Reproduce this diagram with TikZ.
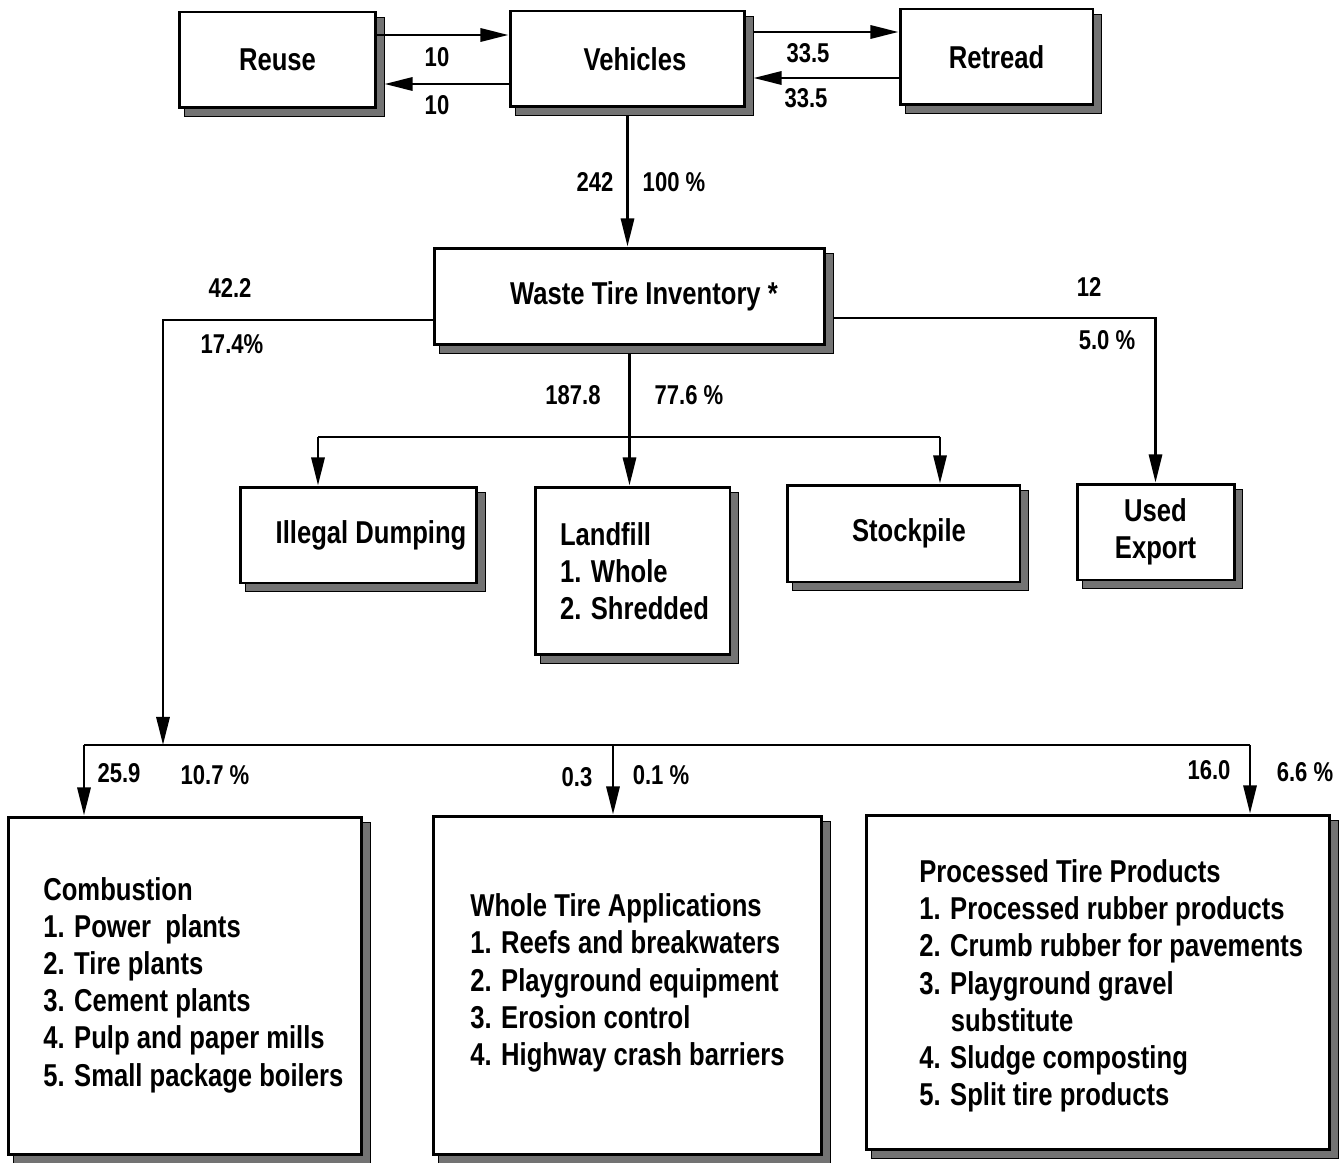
\documentclass[tikz,border=0pt]{standalone}
\usepackage{fontspec}
\setmainfont{Liberation Sans}[FakeStretch=0.81]
\usetikzlibrary{arrows.meta}
\pgfdeclarelayer{bg}
\pgfsetlayers{bg,main}
\begin{document}
\begin{tikzpicture}[x=0.02cm,y=-0.02cm,
  box/.style={draw,line width=1.7pt,fill=white,inner sep=0pt,align=center,
    font=\fontsize{18}{21}\selectfont\bfseries},
  listtext/.style={inner sep=0pt,align=left,anchor=west,
    font=\fontsize{18}{21.2}\selectfont\bfseries},
  lbl/.style={font=\fontsize{15.5}{18}\selectfont\bfseries,inner sep=0pt},
  shd/.style={draw=black,line width=0.8pt,fill=black!55},
  ln/.style={line width=1.5pt},
  arr/.style={line width=1.5pt,-{Triangle[length=16pt,width=7.5pt]}}]
\useasboundingbox (0,0) rectangle (1344,1162);

% top row
\node[box,minimum width=3.94cm,minimum height=1.92cm] (reuse) at (277.5,60) {Reuse};
\node[box,minimum width=4.7cm,minimum height=1.92cm] (veh) at (627.5,59) {\hspace*{0.3cm}Vehicles};
\node[box,minimum width=3.86cm,minimum height=1.92cm] (retread) at (996.5,57) {Retread};
% inventory
\node[box,minimum width=7.82cm,minimum height=1.94cm] (wti) at (629.5,296.5) {\hspace*{0.58cm}Waste Tire Inventory *};
% middle row
\node[box,minimum width=4.74cm,minimum height=1.92cm] (illegal) at (358.5,535) {\hspace*{0.5cm}Illegal Dumping};
\node[box,minimum width=3.9cm,minimum height=3.36cm,align=left] (landfill) at (632.5,571) {\hspace*{0.08cm}Landfill\\\hspace*{0.08cm}1. Whole\\\hspace*{0.08cm}2. Shredded};
\node[box,minimum width=4.66cm,minimum height=1.94cm] (stock) at (903.5,533.5) {\hspace*{0.22cm}Stockpile};
\node[box,minimum width=3.14cm,minimum height=1.92cm] (export) at (1155.5,532) {Used\\Export};
% bottom row
\node[box,minimum width=7.08cm,minimum height=6.76cm] (comb) at (185,986) {};
\node[box,minimum width=7.78cm,minimum height=6.78cm] (whole) at (627.5,985.5) {};
\node[box,minimum width=9.28cm,minimum height=6.7cm] (proc) at (1098,982.5) {};

\node[listtext] (combtxt) at (43,985) {Combustion\\1. Power\ \ plants\\2. Tire plants\\3. Cement plants\\4. Pulp and paper mills\\5. Small package boilers};
\node[listtext] (wholetxt) at (470,983) {Whole Tire Applications\\1. Reefs and breakwaters\\2. Playground equipment\\3. Erosion control\\4. Highway crash barriers};
\node[listtext] (proctxt) at (919,986) {Processed Tire Products\\1. Processed rubber products\\2. Crumb rubber for pavements\\3. Playground gravel\\\hspace*{18pt}substitute\\4. Sludge composting\\5. Split tire products};

% shadows
\begin{pgfonlayer}{bg}
\foreach \n in {reuse,veh,retread,wti,illegal,landfill,stock,export,comb,whole,proc}{
  \draw[shd] ([shift={(7,7)}]\n.north west) rectangle ([shift={(7,7)}]\n.south east);
}
\end{pgfonlayer}

% top connectors
\draw[arr] (reuse.east |- 0,35) -- (veh.west |- 0,35);
\draw[arr] (veh.west |- 0,84) -- ([xshift=0.14cm]reuse.east |- 0,84);
\draw[arr] ([xshift=0.14cm]veh.east |- 0,32) -- (retread.west |- 0,32);
\draw[arr] (retread.west |- 0,78) -- ([xshift=0.14cm]veh.east |- 0,78);
\draw[arr] ([yshift=-0.14cm]veh.south) -- (veh.south |- wti.north);

% inventory outputs
\coordinate (lbar) at (163,745);
\draw[arr] (wti.west |- 0,320) -| (lbar);
\draw[arr] ([xshift=0.14cm]wti.east |- 0,318) -| (export.north);
\coordinate (b1) at (318,437);
\coordinate (b2) at (940,437);
\draw[arr] ([yshift=-0.14cm]wti.south) -- (wti.south |- landfill.north);
\draw[ln] (b1) -- (b2);
\draw[arr] (b1) -- (b1 |- illegal.north);
\draw[arr] (b2) -- (b2 |- stock.north);

% bottom distribution bar
\coordinate (c1) at (84,745);
\coordinate (c2) at (613,745);
\coordinate (c3) at (1250,745);
\draw[ln] (c1) -- (c3);
\draw[arr] (c1) -- (c1 |- comb.north);
\draw[arr] (c2) -- (c2 |- whole.north);
\draw[arr] (c3) -- (c3 |- proc.north);

% labels
\node[lbl] (l1) at (437,57) {10};
\node[lbl] (l2) at (437,105) {10};
\node[lbl] (l3) at (808,53) {33.5};
\node[lbl] (l4) at (806,98) {33.5};
\node[lbl] (l5) at (595,182) {242};
\node[lbl] (l6) at (674,182) {100 \%};
\node[lbl] (l7) at (230,288) {42.2};
\node[lbl] (l8) at (232,344) {17.4\%};
\node[lbl] (l9) at (1089,287) {12};
\node[lbl] (l10) at (1107,340) {5.0 \%};
\node[lbl] (l11) at (573,395) {187.8};
\node[lbl] (l12) at (689,395) {77.6 \%};
\node[lbl] (l13) at (119,773) {25.9};
\node[lbl] (l14) at (215,775) {10.7 \%};
\node[lbl] (l15) at (577,777) {0.3};
\node[lbl] (l16) at (661,775) {0.1 \%};
\node[lbl] (l17) at (1209,770) {16.0};
\node[lbl] (l18) at (1305,772) {6.6 \%};
\end{tikzpicture}
\end{document}
